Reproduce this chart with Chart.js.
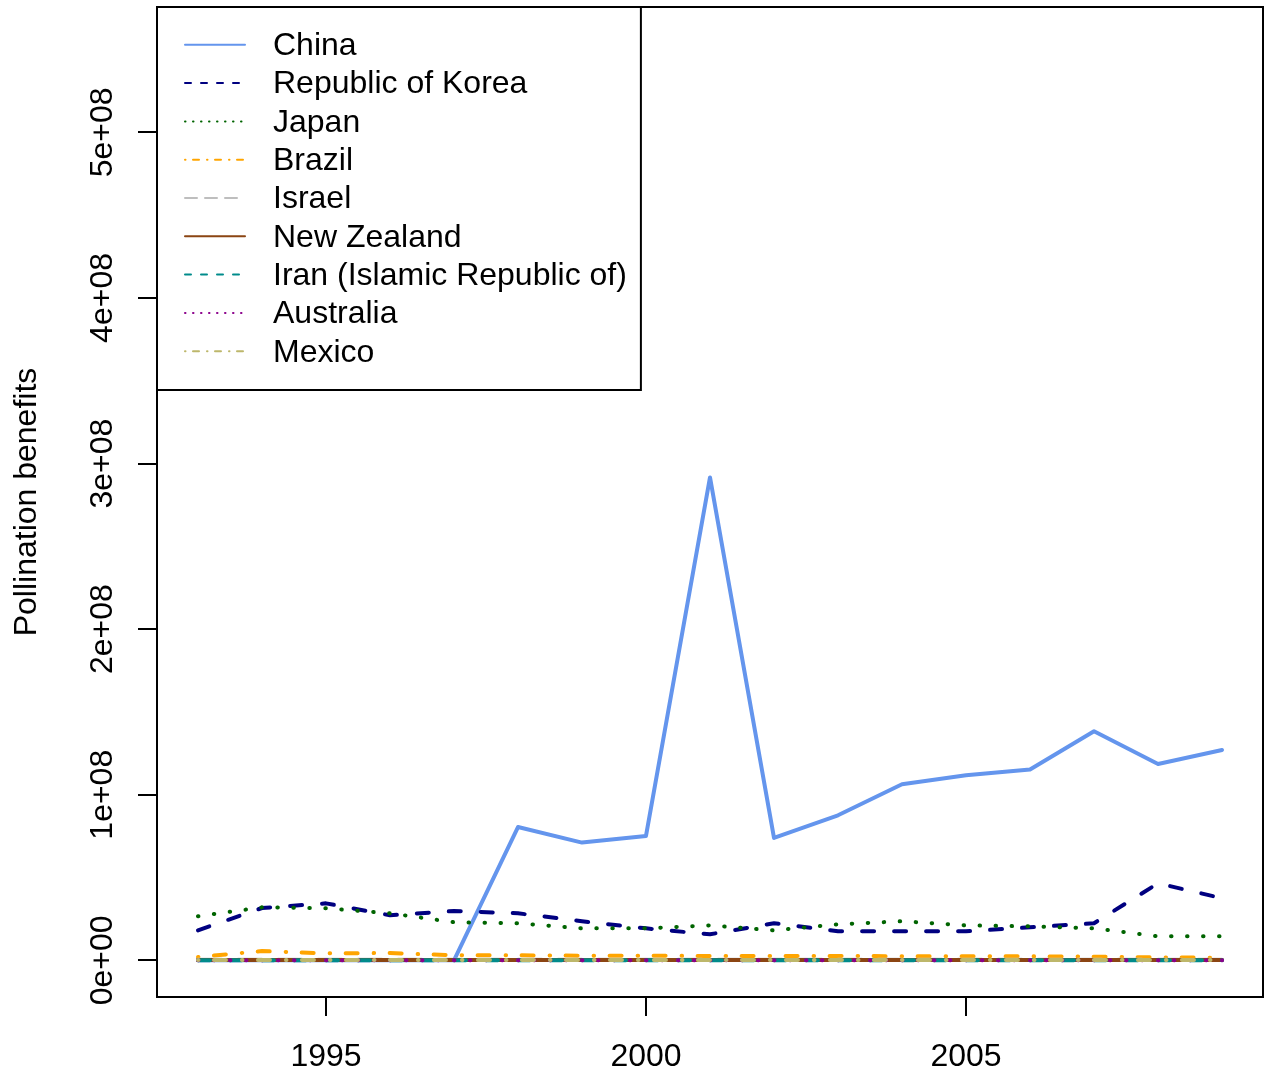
<!DOCTYPE html>
<html>
<head>
<meta charset="utf-8">
<title>Pollination benefits by country</title>
<script src="https://cdn.jsdelivr.net/npm/chart.js@4.4.1/dist/chart.umd.min.js"></script>
<style>
  html, body { margin: 0; padding: 0; background: #ffffff; }
  #wrap { width: 1271px; height: 1073px; }
</style>
</head>
<body>
<div id="wrap"><canvas id="chart" width="1271" height="1073"></canvas></div>
<script>
// ---- data -------------------------------------------------------------
const years = [1993, 1994, 1995, 1996, 1997, 1998, 1999, 2000, 2001,
               2002, 2003, 2004, 2005, 2006, 2007, 2008, 2009];

const countries = ['China', 'Republic of Korea', 'Japan', 'Brazil', 'Israel',
                   'New Zealand', 'Iran (Islamic Republic of)', 'Australia', 'Mexico'];

const china     = [0, 0, 0, 0, 0, 0.805e8, 0.711e8, 0.751e8, 2.916e8,
                   0.739e8, 0.876e8, 1.063e8, 1.118e8, 1.152e8, 1.383e8, 1.186e8, 1.270e8];
const korea     = [0.181e8, 0.316e8, 0.344e8, 0.272e8, 0.298e8, 0.284e8, 0.236e8, 0.193e8, 0.157e8,
                   0.224e8, 0.175e8, 0.175e8, 0.175e8, 0.199e8, 0.224e8, 0.465e8, 0.375e8];
const japan     = [0.266e8, 0.320e8, 0.314e8, 0.284e8, 0.230e8, 0.224e8, 0.193e8, 0.193e8, 0.211e8,
                   0.181e8, 0.217e8, 0.236e8, 0.211e8, 0.205e8, 0.193e8, 0.145e8, 0.145e8];
const brazil    = [0.020e8, 0.056e8, 0.042e8, 0.044e8, 0.030e8, 0.030e8, 0.028e8, 0.028e8, 0.026e8,
                   0.026e8, 0.026e8, 0.025e8, 0.025e8, 0.024e8, 0.022e8, 0.018e8, 0.015e8];
const israel    = [4e5, 4e5, 4e5, 3e5, 3e5, 3e5, 3e5, 3e5, 3e5,
                   3e5, 3e5, 3e5, 3e5, 3e5, 3e5, 3e5, 3e5];
const newZealand= [2e5, 2e5, 2e5, 2e5, 2e5, 2e5, 2e5, 2e5, 2e5,
                   2e5, 2e5, 2e5, 2e5, 2e5, 2e5, 2e5, 2e5];
const iran      = [1e5, 1e5, 1e5, 1e5, 1e5, 1e5, 1e5, 1e5, 1e5,
                   1e5, 1e5, 1e5, 1e5, 1e5, 1e5, 1e5, 1e5];
const australia = [1e5, 1e5, 1e5, 1e5, 1e5, 1e5, 1e5, 1e5, 1e5,
                   1e5, 1e5, 1e5, 1e5, 1e5, 1e5, 1e5, 1e5];
const mexico    = [2e5, 2e5, 2e5, 2e5, 2e5, 2e5, 2e5, 2e5, 2e5,
                   2e5, 2e5, 2e5, 2e5, 2e5, 2e5, 2e5, 2e5];

const seriesValues = [china, korea, japan, brazil, israel, newZealand, iran, australia, mexico];

const xTickValues = [1995, 2000, 2005];
const yTickValues = [0, 1e8, 2e8, 3e8, 4e8, 5e8];

// axis limits (data range padded by 4% on each side)
const xMin = 1992.36, xMax = 2009.64;
const yMin = -0.2215e8, yMax = 5.757e8;

// ---- styles -------------------------------------------------------------
const colors = ['#6495ED', '#000080', '#006400', '#FFA500', '#BEBEBE',
                '#8B4513', '#008B8B', '#8B008B', '#BDB76B'];
// line types cycle: solid, dashed, dotted, dot-dash, long dash
const dashPlot = {
  solid: [], dashed: [12, 20], dotted: [0.5, 15.5], dotdash: [0.5, 15.5, 12, 16], longdash: [24, 16]
};
const dashKey = {
  solid: [], dashed: [6, 10], dotted: [0.5, 7.5], dotdash: [0.5, 7.5, 6, 8], longdash: [12, 8]
};
const ltyCycle = ['solid', 'dashed', 'dotted', 'dotdash', 'longdash'];

const FONT = '"Liberation Sans", Arial, Helvetica, sans-serif';
const FSIZE = 32;

function sciLabel(v) {
  if (v === 0) return '0e+00';
  const e = Math.floor(Math.log10(Math.abs(v)));
  const m = Math.round(v / Math.pow(10, e));
  return m + 'e' + (e < 0 ? '-' : '+') + String(Math.abs(e)).padStart(2, '0');
}

// frame around the plotting region
const frame = {
  id: 'frame',
  afterDraw(chart) {
    const a = chart.chartArea, ctx = chart.ctx;
    ctx.save();
    ctx.strokeStyle = '#000';
    ctx.lineWidth = 2;
    ctx.strokeRect(a.left, a.top, a.right - a.left, a.bottom - a.top);
    ctx.restore();
  }
};

// boxed key in the top-left corner of the plotting region
const key = {
  id: 'key',
  afterDraw(chart) {
    const a = chart.chartArea, ctx = chart.ctx;
    const ds = chart.data.datasets;
    const rowH = 38.3;
    const x0 = a.left, y0 = a.top;
    const lineX1 = x0 + 28, lineX2 = x0 + 88, textX = x0 + 116;
    ctx.save();
    ctx.font = FSIZE + 'px ' + FONT;
    let maxW = 0;
    ds.forEach(d => { maxW = Math.max(maxW, ctx.measureText(d.label).width); });
    const boxW = textX + maxW + 14 - x0;
    const boxH = rowH * (ds.length + 1);
    ctx.fillStyle = '#fff';
    ctx.fillRect(x0, y0, boxW, boxH);
    ctx.strokeStyle = '#000';
    ctx.lineWidth = 2;
    ctx.strokeRect(x0, y0, boxW, boxH);
    ds.forEach((d, i) => {
      const y = y0 + rowH * (i + 1) - 0.5;
      ctx.beginPath();
      ctx.setLineDash(d.keyDash);
      ctx.lineCap = 'round';
      ctx.lineWidth = 2;
      ctx.strokeStyle = d.borderColor;
      ctx.moveTo(lineX1, y);
      ctx.lineTo(lineX2, y);
      ctx.stroke();
      ctx.setLineDash([]);
      ctx.fillStyle = '#000';
      ctx.textAlign = 'left';
      ctx.textBaseline = 'middle';
      ctx.fillText(d.label, textX, y + 1.5);
    });
    ctx.restore();
  }
};

const datasets = countries.map((name, i) => {
  const lty = ltyCycle[i % ltyCycle.length];
  return {
    label: name,
    data: years.map((yr, j) => ({ x: yr, y: seriesValues[i][j] })),
    borderColor: colors[i],
    backgroundColor: colors[i],
    borderWidth: 4,
    borderDash: dashPlot[lty],
    borderCapStyle: 'round',
    borderJoinStyle: 'round',
    pointRadius: 0,
    tension: 0,
    fill: false,
    order: countries.length - 1 - i,
    keyDash: dashKey[lty]
  };
});

Chart.defaults.font.family = FONT;
Chart.defaults.font.size = FSIZE;
Chart.defaults.color = '#000';

new Chart(document.getElementById('chart'), {
  type: 'line',
  data: { datasets },
  options: {
    responsive: false,
    devicePixelRatio: 1,
    animation: false,
    events: [],
    layout: { padding: { top: 7, right: 8, left: 0, bottom: 0 } },
    plugins: { legend: { display: false }, tooltip: { enabled: false } },
    scales: {
      x: {
        type: 'linear',
        min: xMin,
        max: xMax,
        afterBuildTicks(scale) { scale.ticks = xTickValues.map(v => ({ value: v })); },
        afterFit(scale) { scale.height = 76; scale.paddingLeft = 0; scale.paddingRight = 0; },
        ticks: {
          autoSkip: false,
          maxRotation: 0,
          padding: 22,
          color: '#000',
          font: { size: FSIZE, family: FONT },
          callback: v => String(v)
        },
        grid: {
          display: true, drawOnChartArea: false, drawTicks: true,
          tickLength: 19, tickWidth: 2, tickColor: '#000', color: '#000', lineWidth: 2
        },
        border: { display: false }
      },
      y: {
        type: 'linear',
        min: yMin,
        max: yMax,
        afterBuildTicks(scale) { scale.ticks = yTickValues.map(v => ({ value: v })); },
        afterFit(scale) { scale.width = 157; scale.paddingTop = 0; scale.paddingBottom = 0; },
        ticks: {
          autoSkip: false,
          minRotation: 90,
          maxRotation: 90,
          crossAlign: 'center',
          padding: -10,
          color: '#000',
          font: { size: FSIZE, family: FONT },
          callback: v => sciLabel(v)
        },
        grid: {
          display: true, drawOnChartArea: false, drawTicks: true,
          tickLength: 19, tickWidth: 2, tickColor: '#000', color: '#000', lineWidth: 2
        },
        border: { display: false },
        title: {
          display: true,
          text: 'Pollination benefits',
          color: '#000',
          font: { size: FSIZE, family: FONT },
          padding: { top: 8, bottom: 0 }
        }
      }
    }
  },
  plugins: [frame, key]
});
</script>
</body>
</html>
